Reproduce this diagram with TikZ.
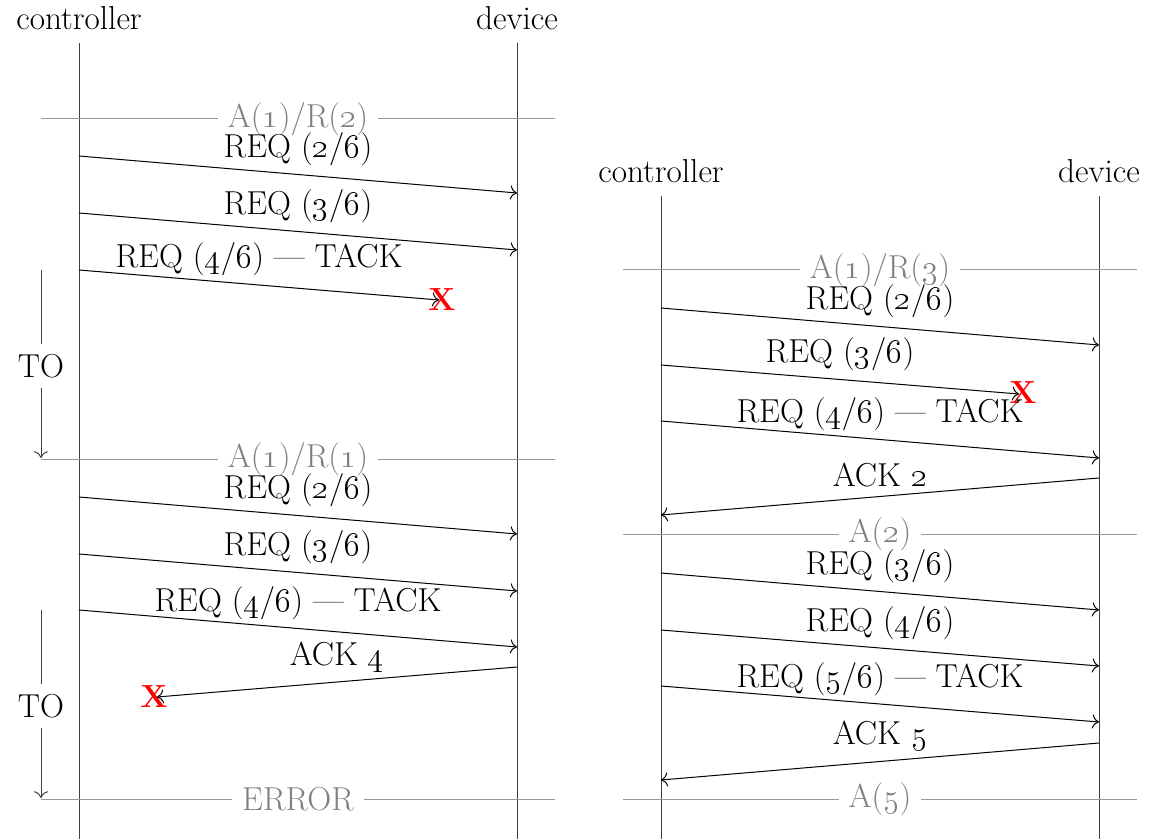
\documentclass[tikz,border=0pt]{standalone}
\usetikzlibrary{arrows.meta}
\newcommand\osn[1]{\oldstylenums{#1}}
\begin{document}
\begin{tikzpicture}[x=0.5pt,y=-0.5pt,
  font=\fontsize{16.6}{19}\selectfont,
  >={To[scale=1.25]},
  life/.style={draw=black!75, line width=0.5pt},
  msg/.style={->, line width=0.5pt},
  sepline/.style={draw=black!40, line width=0.5pt},
  septext/.style={fill=white, text=black!50, inner xsep=5pt, inner ysep=0pt},
  head/.style={anchor=base, inner sep=0pt},
  lbl/.style={midway, anchor=base, inner sep=0pt, yshift=8.5pt},
  lost/.style={text=red, font=\fontsize{16}{19}\selectfont\bfseries, inner sep=0pt},
  tolbl/.style={fill=white, inner xsep=1pt, inner ysep=5pt},
  toline/.style={->, draw=black!75, line width=0.5pt}]
\useasboundingbox (0,0) rectangle (1165,839);

% ---------------- left diagram ----------------
\node[head] (Lc) at (79,30) {controller};
\node[head] (Ld) at (517,30) {device};
\coordinate (LcT) at (79,43);  \coordinate (LcB) at (79,839);
\coordinate (LdT) at (517,43); \coordinate (LdB) at (517,839);
\draw[life] (LcT) -- (LcB);
\draw[life] (LdT) -- (LdB);

% separators
\coordinate (Ls1a) at (41,119); \coordinate (Ls1b) at (555,119);
\draw[sepline] (Ls1a) -- (Ls1b) node[midway, septext] (Ls1t) {A(\osn{1})/R(\osn{2})};
\coordinate (Ls2a) at (41,459); \coordinate (Ls2b) at (555,459);
\draw[sepline] (Ls2a) -- (Ls2b) node[midway, septext] (Ls2t) {A(\osn{1})/R(\osn{1})};
\coordinate (Ls3a) at (41,799); \coordinate (Ls3b) at (555,799);
\draw[sepline] (Ls3a) -- (Ls3b) node[midway, septext] (Ls3t) {ERROR};

% messages, first round
\coordinate (La1) at (79,156);  \coordinate (Lb1) at (517,193);
\draw[msg] (La1) -- (Lb1) node[lbl] (Lm1) {REQ (\osn{2}/\osn{6})};
\coordinate (La2) at (79,213);  \coordinate (Lb2) at (517,250);
\draw[msg] (La2) -- (Lb2) node[lbl] (Lm2) {REQ (\osn{3}/\osn{6})};
\coordinate (La3) at (79,270);
\node[lost] (Lx1) at (442,300) {X};
\draw[msg] (La3) -- (439,300) node[lbl] (Lm3) {REQ (\osn{4}/\osn{6}) \textemdash{} TACK};

% timeout 1
\coordinate (Lt1a) at (41,270); \coordinate (Lt1b) at (41,458);
\draw[toline] (Lt1a) -- (Lt1b);
\node[tolbl] (Lto1) at (41,366) {TO};

% messages, second round
\coordinate (La4) at (79,497);  \coordinate (Lb4) at (517,534);
\draw[msg] (La4) -- (Lb4) node[lbl] (Lm4) {REQ (\osn{2}/\osn{6})};
\coordinate (La5) at (79,554);  \coordinate (Lb5) at (517,591);
\draw[msg] (La5) -- (Lb5) node[lbl] (Lm5) {REQ (\osn{3}/\osn{6})};
\coordinate (La6) at (79,610);  \coordinate (Lb6) at (517,647);
\draw[msg] (La6) -- (Lb6) node[lbl] (Lm6) {REQ (\osn{4}/\osn{6}) \textemdash{} TACK};
\coordinate (Lb7) at (517,667);
\node[lost] (Lx2) at (154,697) {X};
\draw[msg] (Lb7) -- (157,697) node[lbl] (Lm7) {ACK \osn{4}};

% timeout 2
\coordinate (Lt2a) at (41,610); \coordinate (Lt2b) at (41,798);
\draw[toline] (Lt2a) -- (Lt2b);
\node[tolbl] (Lto2) at (41,706) {TO};

% ---------------- right diagram ----------------
\begin{scope}[shift={(582,151)}]
\node[head] (Rc) at (79,32) {controller};
\node[head] (Rd) at (517,32) {device};
\coordinate (RcT) at (79,45);  \coordinate (RcB) at (79,688);
\coordinate (RdT) at (517,45); \coordinate (RdB) at (517,688);
\draw[life] (RcT) -- (RcB);
\draw[life] (RdT) -- (RdB);

\coordinate (Rs1a) at (41,119); \coordinate (Rs1b) at (555,119);
\draw[sepline] (Rs1a) -- (Rs1b) node[midway, septext] (Rs1t) {A(\osn{1})/R(\osn{3})};
\coordinate (Rs2a) at (41,383); \coordinate (Rs2b) at (555,383);
\draw[sepline] (Rs2a) -- (Rs2b) node[midway, septext] (Rs2t) {A(\osn{2})};
\coordinate (Rs3a) at (41,648); \coordinate (Rs3b) at (555,648);
\draw[sepline] (Rs3a) -- (Rs3b) node[midway, septext] (Rs3t) {A(\osn{5})};

\coordinate (Ra1) at (79,157);  \coordinate (Rb1) at (517,194);
\draw[msg] (Ra1) -- (Rb1) node[lbl] (Rm1) {REQ (\osn{2}/\osn{6})};
\coordinate (Ra2) at (79,214);
\node[lost] (Rx1) at (441,242) {X};
\draw[msg] (Ra2) -- (437,243) node[lbl] (Rm2) {REQ (\osn{3}/\osn{6})};
\coordinate (Ra3) at (79,270);  \coordinate (Rb3) at (517,307);
\draw[msg] (Ra3) -- (Rb3) node[lbl] (Rm3) {REQ (\osn{4}/\osn{6}) \textemdash{} TACK};
\coordinate (Rb4) at (517,327);  \coordinate (Ra4) at (79,364);
\draw[msg] (Rb4) -- (Ra4) node[lbl, yshift=-3.5pt] (Rm4) {ACK \osn{2}};

\coordinate (Ra5) at (79,422);  \coordinate (Rb5) at (517,459);
\draw[msg] (Ra5) -- (Rb5) node[lbl] (Rm5) {REQ (\osn{3}/\osn{6})};
\coordinate (Ra6) at (79,479);  \coordinate (Rb6) at (517,515);
\draw[msg] (Ra6) -- (Rb6) node[lbl] (Rm6) {REQ (\osn{4}/\osn{6})};
\coordinate (Ra7) at (79,535);  \coordinate (Rb7) at (517,571);
\draw[msg] (Ra7) -- (Rb7) node[lbl] (Rm7) {REQ (\osn{5}/\osn{6}) \textemdash{} TACK};
\coordinate (Rb8) at (517,592);  \coordinate (Ra8) at (79,629);
\draw[msg] (Rb8) -- (Ra8) node[lbl] (Rm8) {ACK \osn{5}};
\end{scope}
\end{tikzpicture}
\end{document}
